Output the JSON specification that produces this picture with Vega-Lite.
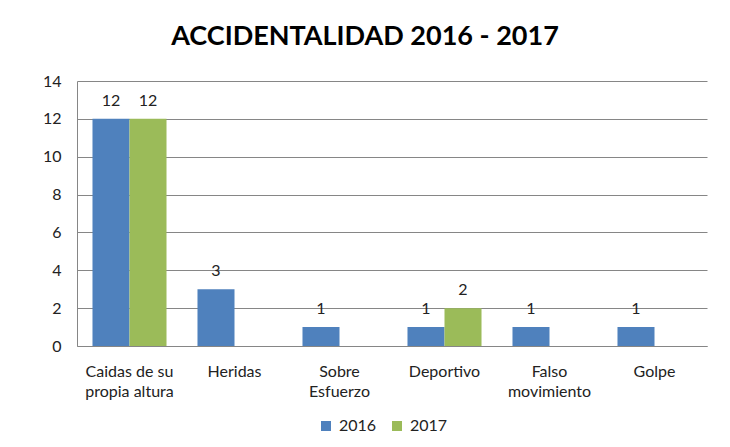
{
  "$schema": "https://vega.github.io/schema/vega-lite/v6.json",
  "autosize": "none",
  "width": 630,
  "height": 265,
  "padding": {"left": 77, "top": 81, "right": 23, "bottom": 101},
  "background": "white",
  "title": {
    "text": "ACCIDENTALIDAD 2016 - 2017",
    "font": "Lato",
    "fontSize": 27,
    "fontWeight": "bold",
    "color": "#000000",
    "anchor": "middle",
    "dx": -27,
    "offset": 22
  },
  "config": {
    "view": {"stroke": null},
    "font": "Lato"
  },
  "data": {
    "values": [
      {"categoria": "Caidas de su propia altura", "anio": "2016", "valor": 12},
      {"categoria": "Caidas de su propia altura", "anio": "2017", "valor": 12},
      {"categoria": "Heridas", "anio": "2016", "valor": 3},
      {"categoria": "Sobre Esfuerzo", "anio": "2016", "valor": 1},
      {"categoria": "Deportivo", "anio": "2016", "valor": 1},
      {"categoria": "Deportivo", "anio": "2017", "valor": 2},
      {"categoria": "Falso movimiento", "anio": "2016", "valor": 1},
      {"categoria": "Golpe", "anio": "2016", "valor": 1}
    ]
  },
  "encoding": {
    "x": {
      "field": "categoria",
      "type": "nominal",
      "sort": ["Caidas de su propia altura", "Heridas", "Sobre Esfuerzo", "Deportivo", "Falso movimiento", "Golpe"],
      "scale": {"paddingInner": 0.295, "paddingOuter": 0.1475},
      "axis": {
        "title": null,
        "labelAngle": 0,
        "ticks": false,
        "domainColor": "#868686",
        "labelFontSize": 16,
        "labelColor": "#222222",
        "labelPadding": 17,
        "labelLineHeight": 20,
        "labelBaseline": "top",
        "labelExpr": "datum.value == 'Caidas de su propia altura' ? ['Caidas de su', 'propia altura'] : datum.value == 'Sobre Esfuerzo' ? ['Sobre', 'Esfuerzo'] : datum.value == 'Falso movimiento' ? ['Falso', 'movimiento'] : datum.value"
      }
    },
    "xOffset": {"field": "anio", "type": "nominal", "scale": {"paddingInner": 0, "paddingOuter": 0}},
    "y": {
      "field": "valor",
      "type": "quantitative",
      "scale": {"domain": [0, 14]},
      "axis": {
        "title": null,
        "values": [0, 2, 4, 6, 8, 10, 12, 14],
        "ticks": false,
        "labelPadding": 16,
        "labelFontSize": 16,
        "labelColor": "#222222",
        "gridColor": "#868686",
        "domainColor": "#868686"
      }
    }
  },
  "layer": [
    {
      "mark": {"type": "bar"},
      "encoding": {
        "color": {
          "field": "anio",
          "type": "nominal",
          "scale": {"domain": ["2016", "2017"], "range": ["#4F81BD", "#9BBB59"]},
          "legend": {
            "title": null,
            "orient": "none",
            "direction": "horizontal",
            "legendX": 241,
            "legendY": 337,
            "symbolType": "square",
            "symbolSize": 100,
            "symbolStrokeWidth": 0,
            "labelFontSize": 16,
            "labelColor": "#222222",
            "columnPadding": 12,
            "labelOffset": 5
          }
        }
      }
    },
    {
      "mark": {"type": "text", "dy": -18, "fontSize": 16, "color": "#222222"},
      "encoding": {"text": {"field": "valor", "type": "quantitative"}}
    }
  ]
}
